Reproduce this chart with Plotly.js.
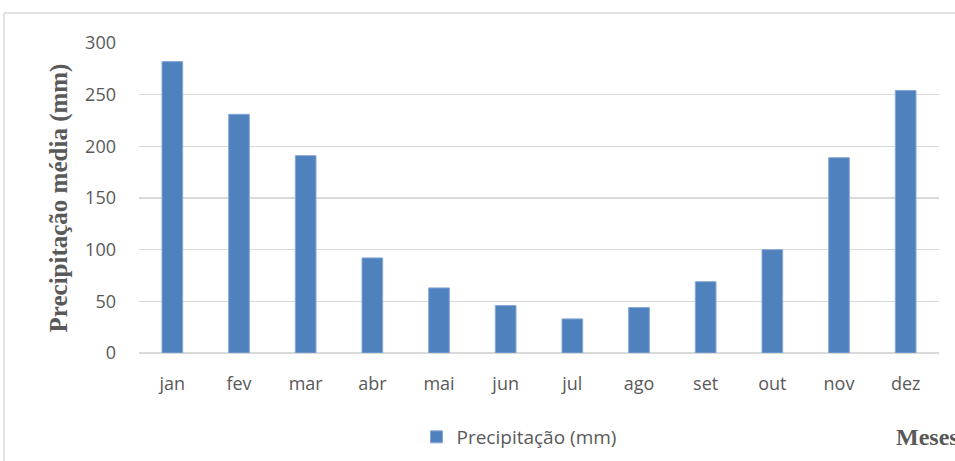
<!DOCTYPE html>
<html>
<head>
<meta charset="utf-8">
<script src="https://cdn.plot.ly/plotly-3.0.1.min.js"></script>
<style>html,body{margin:0;padding:0;background:#fff;}#chart{width:955px;height:461px;}</style>
</head>
<body>
<div id="chart"></div>
<script>
const months = ["jan","fev","mar","abr","mai","jun","jul","ago","set","out","nov","dez"];
const precipitation = [282, 231, 191, 92, 63, 46, 33, 44, 69, 100, 189, 254];
const yTicks = [0, 50, 100, 150, 200, 250, 300];
const seriesName = "Precipitação (mm)";
const yTitle = "Precipitação média (mm)";
const xTitle = "Meses";

const trace = {
  type: "bar",
  x: months,
  y: precipitation,
  name: seriesName,
  marker: {color: "#4f81bd", line: {color: "#86a8d6", width: 1}},
  showlegend: true
};

const layout = {
  width: 955, height: 461,
  margin: {l: 139, r: 16, t: 43, b: 108},
  paper_bgcolor: "#fff", plot_bgcolor: "#fff",
  bargap: 0.69,
  font: {family: "Open Sans, sans-serif", color: "#595959", size: 18},
  xaxis: {
    type: "category", automargin: false,
    tickfont: {size: 18, color: "#595959"},
    showgrid: false, showline: false, ticks: "", ticklen: 0,
    ticklabelstandoff: 18
  },
  yaxis: {
    range: [0, 300], automargin: false,
    tickvals: yTicks,
    tickfont: {size: 18, color: "#595959"},
    showgrid: true, gridcolor: "#d9d9d9", gridwidth: 1.5,
    zeroline: true, zerolinecolor: "#d9d9d9", zerolinewidth: 1.5,
    showline: false, ticks: "", ticklabelstandoff: 22,
    title: {text: yTitle, font: {family: "Liberation Serif, Times New Roman, serif", size: 25, color: "#595959", weight: "bold"}, standoff: 10}
  },
  showlegend: true,
  legend: {
    orientation: "h", x: 0.475, xanchor: "center", y: 1 - 437/461, yanchor: "middle",
    yref: "container",
    font: {size: 19, color: "#595959"}, itemwidth: 30
  },
  annotations: [{
    text: "<b>" + xTitle + "</b>", xref: "paper", yref: "paper",
    x: (894 - 139) / 800, y: (353 - 437) / 310, xanchor: "left", yanchor: "middle", showarrow: false,
    font: {family: "Liberation Serif, Times New Roman, serif", size: 24, color: "#595959"}
  }],
  shapes: [
    {type: "line", xref: "paper", yref: "paper", x0: -135/800, x1: 820/800, y0: (353-13)/310, y1: (353-13)/310, line: {color: "#d9d9d9", width: 1.5}},
    {type: "line", xref: "paper", yref: "paper", x0: -135/800, x1: -135/800, y0: (353-13)/310, y1: (353-470)/310, line: {color: "#d9d9d9", width: 1.5}}
  ]
};

Plotly.newPlot("chart", [trace], layout, {displayModeBar: false, staticPlot: true});
</script>
</body>
</html>
